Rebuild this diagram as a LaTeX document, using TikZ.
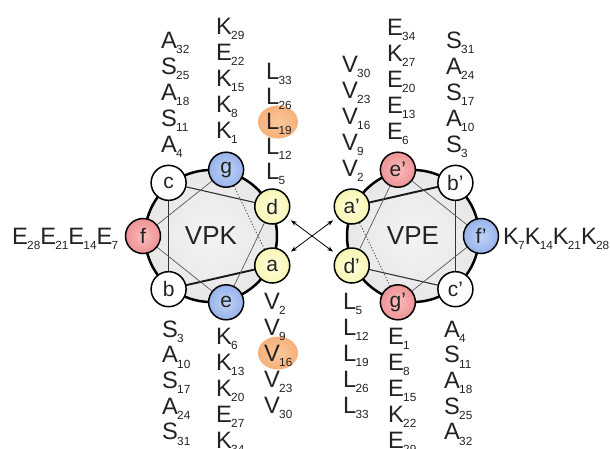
\documentclass[tikz,border=0pt]{standalone}
\usepackage{fontspec}
\setmainfont{Liberation Sans}
\usetikzlibrary{arrows.meta}

\definecolor{txt}{RGB}{35,35,35}
\definecolor{diskin}{RGB}{243,243,243}
\definecolor{diskmid}{RGB}{232,232,232}
\definecolor{diskout}{RGB}{178,178,178}
\definecolor{bluein}{RGB}{192,210,246}
\definecolor{blueout}{RGB}{112,148,224}
\definecolor{yelin}{RGB}{255,255,222}
\definecolor{yelout}{RGB}{240,236,136}
\definecolor{redin}{RGB}{250,188,188}
\definecolor{redout}{RGB}{226,104,110}
\definecolor{orin}{RGB}{251,200,155}
\definecolor{orout}{RGB}{238,138,66}

% radial shadings: outer colour is reached at the rim of the shaded path
\pgfdeclareradialshading{diskshade}{\pgfpointorigin}{color(0bp)=(diskin); color(24bp)=(diskmid); color(50bp)=(diskout)}
\pgfdeclareradialshading{blueball}{\pgfpointorigin}{color(0bp)=(bluein); color(50bp)=(blueout)}
\pgfdeclareradialshading{yelball}{\pgfpointorigin}{color(0bp)=(yelin); color(50bp)=(yelout)}
\pgfdeclareradialshading{redball}{\pgfpointorigin}{color(0bp)=(redin); color(50bp)=(redout)}
\pgfdeclareradialshading{orball}{\pgfpointorigin}{color(0bp)=(orin); color(30bp)=(orin!55!orout); color(50bp)=(orout)}

\newcommand\resfont{\fontsize{23.7}{26}\selectfont}
\newcommand\subfont{\fontsize{11.8}{11.8}\selectfont}
\newcommand\res[2]{#1\kern-0.8pt\raisebox{-5.5pt}{\subfont #2}}
\newcommand\wheelfont{\fontsize{21}{21}\selectfont}
\newcommand\namefont{\fontsize{26}{26}\selectfont}

\pgfdeclarelayer{disklayer}
\pgfdeclarelayer{linklayer}
\pgfsetlayers{disklayer,linklayer,main}

\begin{document}
\begin{tikzpicture}[x=1pt,y=-1pt,
  res/.style={anchor=base west,inner sep=0pt,font=\resfont,text=txt},
  wn/.style={circle,draw=black,line width=1.5pt,minimum size=35pt,inner sep=0pt,font=\wheelfont,text=txt},
  wwhite/.style={wn,fill=white},
  wblue/.style={wn,shade,shading=blueball},
  wyel/.style={wn,shade,shading=yelball},
  wred/.style={wn,shade,shading=redball},
  rim/.style={line width=2.5pt,draw=black},
  lkA/.style={line width=1.9pt,draw=black!90},
  lkB/.style={line width=1.1pt,draw=black!80},
  lkC/.style={line width=0.7pt,draw=black!65},
  lkD/.style={line width=1pt,draw=black!70,dotted},
  xarrow/.style={line width=0.8pt,draw=black,{Stealth[length=6pt,width=4.5pt]}-{Stealth[length=6pt,width=4.5pt]},shorten <=5pt,shorten >=5pt},
  hilite/.style={shading=orball}
]
\useasboundingbox (0,0) rectangle (610,448);

\coordinate (pk) at (211,236);
\coordinate (pe) at (413,236);

% ---- VPK wheel ----
\node[wred]   (pkf) at ([shift={(pk)}]180:68) {f};
\node[wwhite] (pkc) at ([shift={(pk)}]-128.57:68) {c};
\node[wblue]  (pkg) at ([shift={(pk)}]-77.14:68) {g};
\node[wyel]   (pkd) at ([shift={(pk)}]-25.71:68) {d};
\node[wyel]   (pka) at ([shift={(pk)}]25.71:68) {a};
\node[wblue]  (pke) at ([shift={(pk)}]77.14:68) {e};
\node[wwhite] (pkb) at ([shift={(pk)}]128.57:68) {b};
\node[font=\namefont,text=txt] (pkname) at (pk) {VPK};

% ---- VPE wheel ----
\node[wyel]   (pea) at ([shift={(pe)}]-154.29:68) {a’};
\node[wred]   (pee) at ([shift={(pe)}]-102.86:68) {e’};
\node[wwhite] (peb) at ([shift={(pe)}]-51.43:68) {b’};
\node[wblue]  (pef) at ([shift={(pe)}]0:68) {f’};
\node[wwhite] (pec) at ([shift={(pe)}]51.43:68) {c’};
\node[wred]   (peg) at ([shift={(pe)}]102.86:68) {g’};
\node[wyel]   (ped) at ([shift={(pe)}]154.29:68) {d’};
\node[font=\namefont,text=txt] (pename) at (pe) {VPE};

% discs behind the wheels
\begin{pgfonlayer}{disklayer}
  \shade[shading=diskshade] (pk) circle (66pt);
  \draw[rim] (pk) circle (66pt);
  \shade[shading=diskshade] (pe) circle (66pt);
  \draw[rim] (pe) circle (66pt);
\end{pgfonlayer}

% heptad links, heavier towards the front of the helix
\begin{pgfonlayer}{linklayer}
  \draw[lkA] (pka.center) -- (pkb.center);
  \draw[lkB] (pkb.center) -- (pkc.center);
  \draw[lkB] (pkc.center) -- (pkd.center);
  \draw[lkC] (pkd.center) -- (pke.center);
  \draw[lkC] (pke.center) -- (pkf.center);
  \draw[lkC] (pkf.center) -- (pkg.center);
  \draw[lkD] (pkg.center) -- (pka.center);
  \draw[lkA] (pea.center) -- (peb.center);
  \draw[lkB] (peb.center) -- (pec.center);
  \draw[lkB] (pec.center) -- (ped.center);
  \draw[lkC] (ped.center) -- (pee.center);
  \draw[lkC] (pee.center) -- (pef.center);
  \draw[lkC] (pef.center) -- (peg.center);
  \draw[lkD] (peg.center) -- (pea.center);
\end{pgfonlayer}

% interactions between the wheels
\draw[xarrow] (pkd) -- (ped);
\draw[xarrow] (pka) -- (pea);

% highlighted residues
\shade[hilite] (278,122) ellipse [x radius=20pt, y radius=16.5pt];
\shade[hilite] (278,353) ellipse [x radius=20pt, y radius=16.5pt];

% ---- residue columns, VPK ----
\foreach \t/\n [count=\i from 0] in {A/4,S/11,A/18,S/25,A/32}
  \node[res] (kta\i) at (161,{152-26*\i}) {\res{\t}{\n}};
\foreach \t/\n [count=\i from 0] in {K/1,K/8,K/15,E/22,K/29}
  \node[res] (ktg\i) at (216,{138-26*\i}) {\res{\t}{\n}};
\foreach \t/\n [count=\i from 0] in {L/5,L/12,L/19,L/26,L/33}
  \node[res] (ktd\i) at (266,{179-25*\i}) {\res{\t}{\n}};
\foreach \t/\n [count=\i from 0] in {S/3,A/10,S/17,A/24,S/31}
  \node[res] (kbb\i) at (162,{337+25.7*\i}) {\res{\t}{\n}};
\foreach \t/\n [count=\i from 0] in {K/6,K/13,K/20,E/27,K/34}
  \node[res] (kbe\i) at (216,{344+26*\i}) {\res{\t}{\n}};
\foreach \t/\n [count=\i from 0] in {V/2,V/9,V/16,V/23,V/30}
  \node[res] (kba\i) at (264,{309+26*\i}) {\res{\t}{\n}};
\node[res] (kf) at (12,244) {\res{E}{28}\res{E}{21}\res{E}{14}\res{E}{7}};

% ---- residue columns, VPE ----
\foreach \t/\n [count=\i from 0] in {V/2,V/9,V/16,V/23,V/30}
  \node[res] (eta\i) at (342,{176-26*\i}) {\res{\t}{\n}};
\foreach \t/\n [count=\i from 0] in {E/6,E/13,E/20,K/27,E/34}
  \node[res] (ete\i) at (387,{139-26*\i}) {\res{\t}{\n}};
\foreach \t/\n [count=\i from 0] in {S/3,A/10,S/17,A/24,S/31}
  \node[res] (etb\i) at (446,{152-26*\i}) {\res{\t}{\n}};
\foreach \t/\n [count=\i from 0] in {L/5,L/12,L/19,L/26,L/33}
  \node[res] (ebd\i) at (343,{309+26*\i}) {\res{\t}{\n}};
\foreach \t/\n [count=\i from 0] in {E/1,E/8,E/15,K/22,E/29}
  \node[res] (ebg\i) at (388,{344+26*\i}) {\res{\t}{\n}};
\foreach \t/\n [count=\i from 0] in {A/4,S/11,A/18,S/25,A/32}
  \node[res] (ebc\i) at (444,{337+25.7*\i}) {\res{\t}{\n}};
\node[res] (ef) at (503,244) {\res{K}{7}\res{K}{14}\res{K}{21}\res{K}{28}};
\end{tikzpicture}
\end{document}
